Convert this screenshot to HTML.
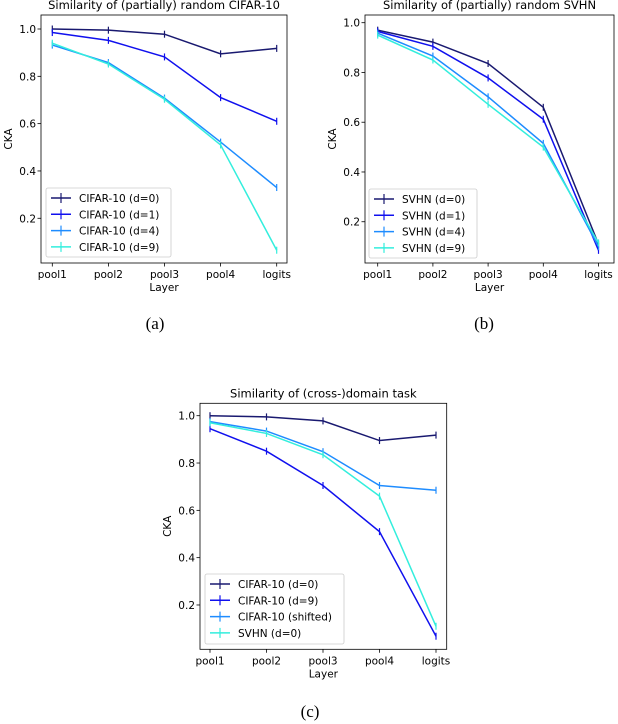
<!DOCTYPE html>
<html><head><meta charset="utf-8"><style>
body{margin:0;background:#fff;}
svg{display:block;font-family:"DejaVu Sans","Liberation Sans",sans-serif;}
</style></head><body>
<svg id="fig" width="618" height="724" viewBox="0 0 618 724"></svg>
<script>
const categories=["pool1","pool2","pool3","pool4","logits"];
const yTicks=[0.2,0.4,0.6,0.8,1.0];
const colors=["#191970","#1010ee","#1e8cff","#33eedd"];
const aLabels=["CIFAR-10 (d=0)","CIFAR-10 (d=1)","CIFAR-10 (d=4)","CIFAR-10 (d=9)"];
const aD0=[1.0,0.995,0.978,0.895,0.918];
const aD1=[0.985,0.952,0.882,0.71,0.61];
const aD4=[0.932,0.858,0.708,0.522,0.33];
const aD9=[0.94,0.852,0.703,0.51,0.065];
const bLabels=["SVHN (d=0)","SVHN (d=1)","SVHN (d=4)","SVHN (d=9)"];
const bD0=[0.97,0.922,0.836,0.66,0.11];
const bD1=[0.965,0.905,0.778,0.612,0.085];
const bD4=[0.958,0.866,0.702,0.515,0.1];
const bD9=[0.95,0.85,0.672,0.5,0.115];
const cLabels=["CIFAR-10 (d=0)","CIFAR-10 (d=9)","CIFAR-10 (shifted)","SVHN (d=0)"];
const cD0=[1.0,0.995,0.978,0.895,0.918];
const cD9=[0.945,0.85,0.705,0.51,0.068];
const cShift=[0.975,0.935,0.848,0.705,0.685];
const cSvhn=[0.97,0.925,0.835,0.66,0.11];

const NS="http://www.w3.org/2000/svg";
const svg=document.getElementById('fig');
function mk(tag,attrs,parent){const e=document.createElementNS(NS,tag);for(const k in attrs)e.setAttribute(k,attrs[k]);(parent||svg).appendChild(e);return e;}
function txt(s,x,y,size,anchor,parent,rot){const t=mk('text',{x:x,y:y,'font-size':size,'text-anchor':anchor||'middle',fill:'#000'},parent);if(rot)t.setAttribute('transform','rotate(-90 '+x+' '+y+')');t.textContent=s;return t;}

function panel(p){
  const g=mk('g',{});
  
  
  const xs=i=>p.x0+i*p.dx;
  const Y=v=>p.yTop1+(1.0-v)*p.ppu;
  const frame=mk('rect',{x:p.L,y:p.T,width:p.R-p.L,height:p.B-p.T,fill:'none',stroke:'#000','stroke-width':0.8},g);
  
  
  yTicks.forEach(v=>{
    mk('line',{x1:p.L-3.5,x2:p.L,y1:Y(v),y2:Y(v),stroke:'#000','stroke-width':0.8},g);
    const t=txt(v.toFixed(1),p.L-5,Y(v)+4,10.5,'end',g);
    
    
  });
  categories.forEach((c,i)=>{
    mk('line',{x1:xs(i),x2:xs(i),y1:p.B,y2:p.B+3.5,stroke:'#000','stroke-width':0.8},g);
    const t=txt(c,xs(i),p.B+15,10.5,'middle',g);
    
    
  });
  const xl=txt('Layer',(p.L+p.R)/2,p.B+28,10.5,'middle',g);
  
  
  const yl=txt('CKA',p.L-29,(p.T+p.B)/2,10.5,'middle',g,true);
  
  
  const ti=txt(p.title,(p.L+p.R)/2,p.T-6,11.5,'middle',g);
  
  
  p.series.forEach((s,k)=>{
    const pts=s.map((v,i)=>xs(i)+','+Y(v)).join(' ');
    const pl=mk('polyline',{points:pts,fill:'none',stroke:colors[k],'stroke-width':1.5},g);
    
    
    s.forEach((v,i)=>{
      const e=mk('line',{x1:xs(i),x2:xs(i),y1:Y(v)-3.5,y2:Y(v)+3.5,stroke:colors[k],'stroke-width':1.2},g);
      
      
    });
  });
  const lg=mk('g',{},g);
  
  
  mk('rect',{x:p.lx,y:p.ly,width:p.lw,height:p.lh,rx:2,fill:'#fff','fill-opacity':0.8,stroke:'#ccc','stroke-width':0.8},lg);
  p.labels.forEach((l,k)=>{
    const yy=p.ly+10+k*16.3;
    const en=mk('g',{},lg);
    
    
    mk('line',{x1:p.lx+5,x2:p.lx+25,y1:yy,y2:yy,stroke:colors[k],'stroke-width':1.5},en);
    mk('line',{x1:p.lx+15,x2:p.lx+15,y1:yy-5,y2:yy+5,stroke:colors[k],'stroke-width':1.2},en);
    txt(l,p.lx+33,yy+4,10.5,'start',en);
  });
}
panel({name:'panel-a',L:41,R:287,T:15,B:263,x0:52.3,dx:56.1,yTop1:29,ppu:236.6,title:'Similarity of (partially) random CIFAR-10',
  series:[aD0,aD1,aD4,aD9],labels:aLabels,lx:46,ly:188,lw:125,lh:69});
panel({name:'panel-b',L:365,R:614,T:15,B:263,x0:377.7,dx:55.2,yTop1:22.7,ppu:248.8,title:'Similarity of (partially) random SVHN',
  series:[bD0,bD1,bD4,bD9],labels:bLabels,lx:369,ly:189,lw:108,lh:69});
panel({name:'panel-c',L:200,R:446.7,T:403.3,B:649.3,x0:210,dx:56.5,yTop1:415.7,ppu:236.6,title:'Similarity of (cross-)domain task',
  series:[cD0,cD9,cShift,cSvhn],labels:cLabels,lx:205,ly:574,lw:139,lh:70});
[['(a)',155,329],['(b)',484,329],['(c)',310,717]].forEach(c=>{
  const t=mk('text',{x:c[1],y:c[2],'font-size':17,'text-anchor':'middle','font-family':'Liberation Serif, serif'});
  t.textContent=c[0];
  
  
});
</script>
</body></html>
